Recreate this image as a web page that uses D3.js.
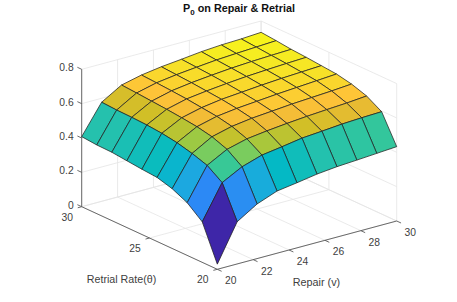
<!DOCTYPE html>
<html><head><meta charset="utf-8">
<script src="https://cdnjs.cloudflare.com/ajax/libs/d3/7.8.5/d3.min.js"></script>
<style>html,body{margin:0;padding:0;background:#fff}svg{display:block}text{font-family:"Liberation Sans",Arial,sans-serif}</style>
</head><body><svg id="c" width="457" height="302"></svg>
<script>
const repair = [20,21.11,22.22,23.33,24.44,25.56,26.67,27.78,28.89,30];
const retrial = [20,21.11,22.22,23.33,24.44,25.56,26.67,27.78,28.89,30];
// rows: retrial, columns: repair
const p0row0 = [.03,.246,.318,.362,.379,.398,.41,.417,.425,.433];
const p0row1 = [.236,.433,.494,.531,.548,.567,.576,.586,.592,.596];
const p0row2 = [.307,.493,.555,.585,.60,.612,.622,.630,.637,.647];
const p0row3 = [.348,.522,.588,.617,.633,.643,.653,.660,.667,.676];
const p0row4 = [.373,.544,.606,.635,.650,.660,.670,.678,.686,.694];
const p0row5 = [.38,.558,.617,.645,.662,.672,.682,.690,.696,.702];
const p0row6 = [.389,.566,.626,.655,.670,.682,.692,.699,.705,.71];
const p0row7 = [.398,.57,.633,.662,.678,.690,.700,.707,.712,.716];
const p0row8 = [.40,.572,.64,.668,.684,.696,.707,.714,.720,.726];
const p0row9 = [.408,.577,.646,.673,.69,.702,.715,.723,.727,.734];
const P0 = [p0row0,p0row1,p0row2,p0row3,p0row4,p0row5,p0row6,p0row7,p0row8,p0row9];
const vTicks = [20,22,24,26,28,30];
const tTicks = [20,25,30];
const zTicks = [0,.2,.4,.6,.8];
const zLabels = ["0","0.2","0.4","0.6","0.8"];
const parula = ["#3e26a8","#4332cb","#4741e5","#4852f4","#4563fc","#3875fe","#2d87f7","#2796eb","#20a5e3","#12b1d6","#02bac3","#24c1ae","#37c897","#57cc7a","#81cc59","#abc739","#d1bf27","#efba36","#fec338","#fad62d","#f5e924","#f9fb14"];

const svg = d3.select("#c");
const origin = {x:217.3,y:269.3};
const xV = d3.scaleLinear().domain([20,30]).range([0,179.4]);
const xT = d3.scaleLinear().domain([20,30]).range([0,-135.6]);
const yV = d3.scaleLinear().domain([20,30]).range([0,-48.3]);
const yT = d3.scaleLinear().domain([20,30]).range([0,-62.6]);
const yZ = d3.scaleLinear().domain([0,.8]).range([0,-137.4]);
const P = (v,t,z)=>[origin.x+xV(v)+xT(t), origin.y+yV(v)+yT(t)+yZ(z)];
const line = (a,b,col,w)=>svg.append("line").attr("x1",a[0]).attr("y1",a[1]).attr("x2",b[0]).attr("y2",b[1]).attr("stroke",col).attr("stroke-width",w);

const gridCol = "#e4e4e4";
vTicks.forEach(v=>{
  line(P(v,20,0),P(v,30,0),gridCol,.8);
  line(P(v,30,0),P(v,30,.8),gridCol,.8);
});
tTicks.forEach(t=>{
  line(P(20,t,0),P(30,t,0),gridCol,.8);
  line(P(30,t,0),P(30,t,.8),gridCol,.8);
});
zTicks.forEach(z=>{
  line(P(20,30,z),P(30,30,z),gridCol,.8);
  line(P(30,30,z),P(30,20,z),gridCol,.8);
});

const axCol = "#5a5a5a";
line(P(20,30,0),P(20,30,.8),axCol,.9);
line(P(20,30,0),P(20,20,0),axCol,.9);
line(P(20,20,0),P(30,20,0),axCol,.9);
zTicks.forEach(z=>line(P(20,30,z),P(20,30.32,z),axCol,.9));
tTicks.forEach(t=>line(P(20,t,0),P(19.78,t,0),axCol,.9));
vTicks.forEach(v=>line(P(v,20,0),P(v,19.68,0),axCol,.9));

const zMin = d3.min(P0.flat()), zMax = d3.max(P0.flat());
const color = d3.scaleLinear()
  .domain(d3.range(parula.length).map(i=>zMin+(zMax-zMin)*i/(parula.length-1)))
  .range(parula).interpolate(d3.interpolateRgb);
const faces = [];
for(let j=0;j<retrial.length-1;j++)for(let i=0;i<repair.length-1;i++)faces.push({i,j});
faces.sort((a,b)=>(b.i+b.j)-(a.i+a.j));
const gen = d3.line();
svg.append("g").selectAll("path").data(faces).join("path")
  .attr("d",d=>gen([
    P(repair[d.i],retrial[d.j],P0[d.j][d.i]),
    P(repair[d.i+1],retrial[d.j],P0[d.j][d.i+1]),
    P(repair[d.i+1],retrial[d.j+1],P0[d.j+1][d.i+1]),
    P(repair[d.i],retrial[d.j+1],P0[d.j+1][d.i])])+"Z")
  .attr("fill",d=>color(P0[d.j][d.i]))
  .attr("stroke","#222").attr("stroke-width",.75).attr("stroke-linejoin","round");

const txt = (x,y,s,anchor,size,col)=>svg.append("text").attr("x",x).attr("y",y).attr("text-anchor",anchor||"middle").attr("font-size",size||10.3).attr("fill",col||"#404040").text(s);
zTicks.forEach((z,k)=>{const p=P(20,30,z);txt(p[0]-8,p[1]+2,zLabels[k],"end");});
tTicks.forEach(t=>{const p=P(20,t,0);txt(p[0]-14.5,p[1]+14,String(t));});
vTicks.forEach(v=>{const p=P(v,20,0);txt(p[0]+13.5,p[1]+15,String(v));});
txt(121.5,283,"Retrial Rate(θ)","middle",10.7);
txt(316.5,286,"Repair (v)","middle",10.8);
const title = svg.append("text").attr("x",239).attr("y",12).attr("text-anchor","middle").attr("font-size",10.8).attr("font-weight","bold").attr("fill","#111");
title.append("tspan").text("P");
title.append("tspan").attr("font-size",8).attr("dy",3).text("0");
title.append("tspan").attr("dy",-3).text(" on Repair & Retrial");
</script></body></html>
